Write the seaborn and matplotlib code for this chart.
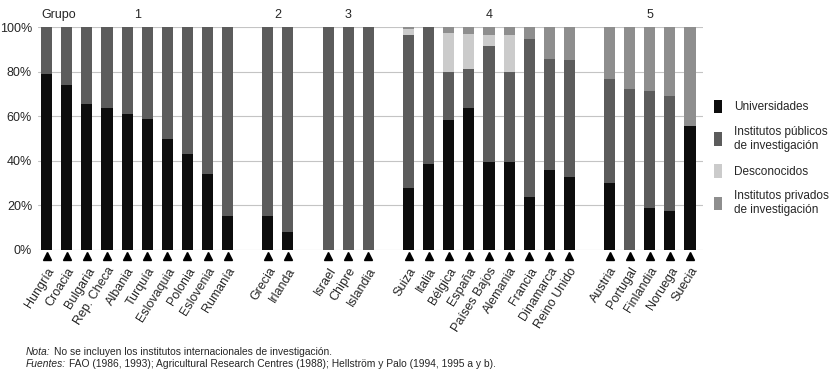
import matplotlib
matplotlib.use("Agg")
import matplotlib.pyplot as plt
from matplotlib.patches import Patch
import seaborn as sns
import pandas as pd

# ---------------- data ----------------
countries = ["Hungría", "Croacia", "Bulgaria", "Rep. Checa", "Albania", "Turquía",
             "Eslovaquia", "Polonia", "Eslovenia", "Rumanía",
             "Grecia", "Irlanda",
             "Israel", "Chipre", "Islandia",
             "Suiza", "Italia", "Bélgica", "España", "Países Bajos", "Alemania",
             "Francia", "Dinamarca", "Reino Unido",
             "Austria", "Portugal", "Finlandia", "Noruega", "Suecia"]
groups = [1] * 10 + [2] * 2 + [3] * 3 + [4] * 9 + [5] * 5

universidades = [78.8, 74.2, 65.4, 63.9, 60.9, 58.7, 50.0, 43.1, 33.9, 15.2,
                 15.2, 8.2,
                 0, 0, 0,
                 27.6, 38.4, 58.5, 63.9, 39.3, 39.3, 23.6, 36.1, 32.8,
                 29.9, 0, 19.0, 17.5, 55.7]
publicos = [21.2, 25.8, 34.6, 36.1, 39.1, 41.3, 50.0, 56.9, 66.1, 84.8,
            84.8, 91.8,
            100, 100, 100,
            68.7, 61.6, 21.4, 17.4, 52.2, 40.6, 70.9, 49.7, 52.3,
            46.7, 72.1, 52.2, 51.5, 0]
desconocidos = [0, 0, 0, 0, 0, 0, 0, 0, 0, 0,
                0, 0,
                0, 0, 0,
                3.0, 0, 17.6, 15.7, 5.1, 16.4, 0, 0, 0,
                0, 0, 0, 0, 0]
privados = [0, 0, 0, 0, 0, 0, 0, 0, 0, 0,
            0, 0,
            0, 0, 0,
            0.7, 0, 2.5, 3.0, 3.4, 3.7, 5.5, 14.2, 14.9,
            23.4, 27.9, 28.8, 31.0, 44.3]

series_names = ["Universidades", "Institutos públicos\nde investigación",
                "Desconocidos", "Institutos privados\nde investigación"]
colors = ["#0d0d0d", "#5c5c5c", "#cbcbcb", "#8e8e8e"]

yticks = [0, 20, 40, 60, 80, 100]
notes_nota = "No se incluyen los institutos internacionales de investigación."
notes_fuentes = ("FAO (1986, 1993); Agricultural Research Centres (1988); "
                 "Hellström y Palo (1994, 1995 a y b).")

# ---------------- build table ----------------
df = pd.DataFrame({"pais": countries, "grupo": groups,
                   "u": universidades, "p": publicos,
                   "d": desconocidos, "r": privados})
df["c1"] = df["u"]
df["c2"] = df["c1"] + df["p"]
df["c3"] = df["c2"] + df["d"]
df["c4"] = df["c3"] + df["r"]

# categorical order with an empty slot between groups
order, labels = [], []
prev = None
gap_i = 0
for c, g in zip(countries, groups):
    if prev is not None and g != prev:
        order.append(f"_gap{gap_i}")
        labels.append("")
        gap_i += 1
    order.append(c)
    labels.append(c)
    prev = g
pos = {name: i for i, name in enumerate(order)}

# ---------------- figure ----------------
sns.set_style("white")
plt.rcParams["font.family"] = ["Liberation Sans", "DejaVu Sans"]

fig = plt.figure(figsize=(8.37, 3.77), dpi=100)
ax = fig.add_axes([0.045, 0.337, 0.795, 0.591])

for col, colr in zip(["c4", "c3", "c2", "c1"], colors[::-1]):
    sns.barplot(data=df, x="pais", y=col, order=order, color=colr,
                saturation=1, width=0.55, errorbar=None, linewidth=0, ax=ax)

ax.set_xlabel("")
ax.set_ylabel("")
ax.set_ylim(0, 100)
ax.set_xlim(-0.45, len(order) - 0.35)
for s in ax.spines.values():
    s.set_visible(False)

ax.set_yticks(yticks)
ax.set_yticklabels([f"{v}%" for v in yticks])
ax.tick_params(axis="y", length=0, pad=4, labelsize=9)
ax.yaxis.grid(True, color="#c4c4c4", linewidth=0.8)
ax.set_axisbelow(True)

ax.set_xticks(range(len(order)))
ax.set_xticklabels(labels, rotation=58, ha="right", va="top",
                   rotation_mode="anchor", fontsize=9)
ax.tick_params(axis="x", length=0, pad=11)

# triangle markers under each bar
xs = [pos[c] for c in countries]
ax.plot(xs, [-2.8] * len(xs), linestyle="none", marker="^", color="black",
        markersize=6, clip_on=False)

# group headers
ax.text(-0.26, 105.5, "Grupo", ha="left", va="center", fontsize=9)
for g in sorted(set(groups)):
    members = [pos[c] for c, gg in zip(countries, groups) if gg == g]
    xc = (members[0] + members[-1]) / 2
    ax.text(xc, 105.5, str(g), ha="center", va="center", fontsize=9)

# legend
handles = [Patch(facecolor=c, edgecolor="none") for c in colors]
fig.legend(handles, series_names, loc="upper left",
           bbox_to_anchor=(703 / 837, 1 - 89 / 377), frameon=False,
           fontsize=8.5, handlelength=0.75, handleheight=1.4,
           labelspacing=1.05, handletextpad=1.0)

# notes
fig.canvas.draw()
r = fig.canvas.get_renderer()
W = fig.bbox.width
for yy, lab, txt in [(352, "Nota:", notes_nota), (364, "Fuentes:", notes_fuentes)]:
    t = fig.text(26 / 837, 1 - yy / 377, lab, fontsize=7.4, style="italic",
                 va="center", ha="left")
    bb = t.get_window_extent(renderer=r)
    fig.text(bb.x1 / W + 3 / 837, 1 - yy / 377, txt, fontsize=7.4,
             va="center", ha="left")

fig.savefig("out.png", dpi=100)
